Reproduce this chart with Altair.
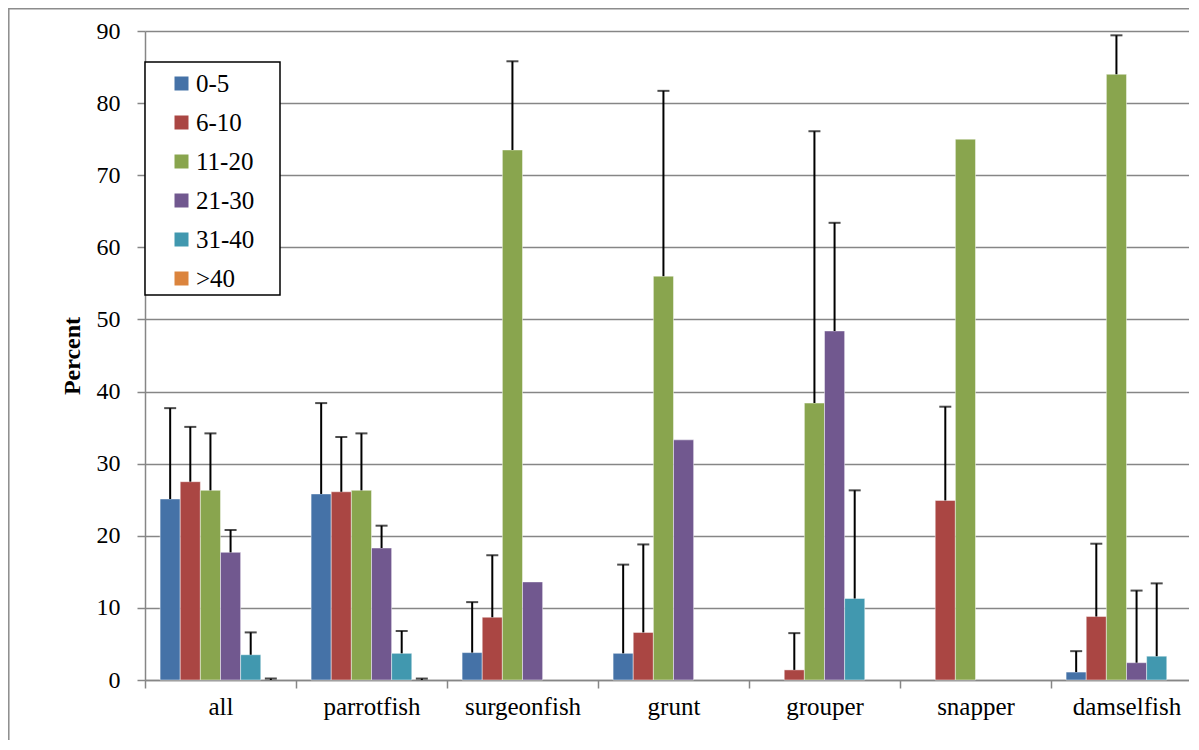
import altair as alt
import pandas as pd

categories = ["all", "parrotfish", "surgeonfish", "grunt", "grouper", "snapper", "damselfish"]
series = ["0-5", "6-10", "11-20", "21-30", "31-40", ">40"]
colors = ["#4572A7", "#AA4643", "#89A54E", "#71588F", "#4198AF", "#DB843D"]

# mean percent per series, across categories
val_0_5 = [25.1, 25.8, 3.8, 3.7, 0.0, 0.0, 1.1]
val_6_10 = [27.5, 26.1, 8.7, 6.6, 1.4, 24.9, 8.8]
val_11_20 = [26.3, 26.3, 73.5, 56.0, 38.4, 75.0, 84.0]
val_21_30 = [17.7, 18.3, 13.6, 33.3, 48.4, 0.0, 2.4]
val_31_40 = [3.5, 3.7, 0.0, 0.0, 11.3, 0.0, 3.3]
val_gt40 = [0.0, 0.0, 0.0, 0.0, 0.0, 0.0, 0.0]

# plus-error amounts (None = no error bar)
err_0_5 = [12.6, 12.6, 7.0, 12.3, None, None, 2.9]
err_6_10 = [7.6, 7.6, 8.6, 12.2, 5.1, 13.0, 10.1]
err_11_20 = [7.9, 7.9, 12.3, 25.7, 37.7, None, 5.4]
err_21_30 = [3.1, 3.1, None, None, 15.0, None, 10.0]
err_31_40 = [3.1, 3.1, None, None, 15.0, None, 10.1]
err_gt40 = [0.2, 0.2, None, None, None, None, None]

vals = [val_0_5, val_6_10, val_11_20, val_21_30, val_31_40, val_gt40]
errs = [err_0_5, err_6_10, err_11_20, err_21_30, err_31_40, err_gt40]

rows = []
for s, vs, es in zip(series, vals, errs):
    for c, v, e in zip(categories, vs, es):
        rows.append({"category": c, "series": s, "value": v,
                     "upper": (v + e) if e is not None else None})
df = pd.DataFrame(rows)

FONT = "Liberation Serif"
W, H = 1044, 649

x_scale = alt.Scale(range=[0, 1057], paddingInner=0, paddingOuter=0)
x_enc = alt.X("category:N", sort=categories, title=None, scale=x_scale,
              axis=alt.Axis(labelAngle=0, labelFont=FONT, labelFontSize=25, labelColor="black",
                            domainColor="#868686", domainWidth=1.5, tickColor="#868686",
                            tickWidth=1.5, tickSize=8, tickBand="extent", labelPadding=6,
                            grid=False))
xo_enc = alt.XOffset("series:N", sort=series,
                     scale=alt.Scale(domain=series, paddingInner=0, paddingOuter=0.75))
y_scale = alt.Scale(domain=[0, 90], nice=False)

bars = alt.Chart(df).transform_filter("datum.value > 0").mark_bar(
    stroke="white", strokeOpacity=0.45, strokeWidth=1
).encode(
    x=x_enc,
    xOffset=xo_enc,
    y=alt.Y("value:Q", scale=y_scale, title="Percent",
            axis=alt.Axis(values=list(range(0, 91, 10)), labelFont=FONT, labelFontSize=24,
                          labelColor="black", titleFont=FONT, titleFontSize=24,
                          titleFontWeight="bold", titleColor="black", titlePadding=12,
                          domainColor="#868686", domainWidth=1.5, tickColor="#868686",
                          tickWidth=1.5, tickSize=8, labelPadding=17,
                          gridColor="#868686", gridWidth=1.5)),
    color=alt.Color("series:N", sort=series,
                    scale=alt.Scale(domain=series, range=colors),
                    legend=alt.Legend(title=None, orient="none", legendX=24, legendY=40,
                                      symbolType="square", symbolSize=196, symbolStrokeWidth=0,
                                      labelFont=FONT, labelFontSize=25, labelColor="black",
                                      rowPadding=13, labelOffset=2, padding=0)),
)

err_df = df.dropna(subset=["upper"])

rules = alt.Chart(err_df).mark_rule(color="black", strokeWidth=2).encode(
    x=alt.X("category:N", sort=categories, scale=x_scale),
    xOffset=xo_enc,
    y=alt.Y("value:Q", scale=y_scale),
    y2="upper:Q",
)

caps = alt.Chart(err_df).mark_tick(color="black", size=12, thickness=2).encode(
    x=alt.X("category:N", sort=categories, scale=x_scale),
    xOffset=xo_enc,
    y=alt.Y("upper:Q", scale=y_scale),
)

legend_box = alt.Chart(alt.Data(values=[{"k": 1}])).mark_rect(
    fill="white", stroke="black", strokeWidth=1.5
).encode(x=alt.value(0), x2=alt.value(135), y=alt.value(31), y2=alt.value(264))

frame = alt.Chart(alt.Data(values=[{"k": 1}])).mark_rect(
    fill=None, stroke="#8c8c8c", strokeWidth=1.5
).encode(x=alt.value(-136.2), x2=alt.value(1300), y=alt.value(-22.2), y2=alt.value(1000))

chart = alt.layer(bars, rules, caps, legend_box, frame).properties(
    width=W, height=H,
    autosize=alt.AutoSizeParams(type="none"),
    padding={"left": 137, "top": 23, "right": 0, "bottom": 60},
).configure(background="white", font=FONT).configure_view(stroke=None)

chart.save("out.html", embed_options={"renderer": "svg", "actions": False})
